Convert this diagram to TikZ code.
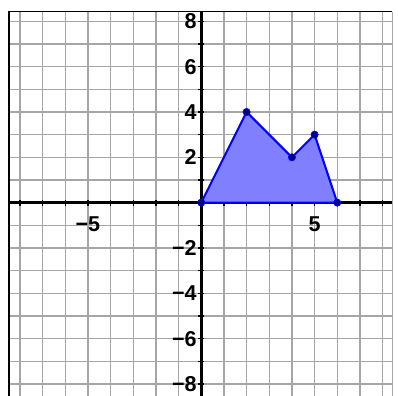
\documentclass[tikz,border=0pt]{standalone}
\usepackage{fontspec}
\setmainfont{Liberation Sans}
\usetikzlibrary{positioning}
\definecolor{grid-line}{HTML}{A6A6A6}
\definecolor{axis-line}{HTML}{000000}
\definecolor{shape-fill}{HTML}{8080FF}
\definecolor{shape-border}{HTML}{0000FF}
\definecolor{vertex-fill}{HTML}{000080}
\tikzset{
  grid-lines/.style={draw=grid-line, line width=0.8pt},
  axis/.style={draw=axis-line, line width=1.6pt},
  axis-tick/.style={draw=axis-line, line width=0.8pt},
  frame-line/.style={draw=axis-line, line width=1pt},
  tick-label/.style={inner sep=0pt, font=\fontsize{13.5}{13.5}\selectfont\bfseries},
  region/.style={fill=shape-fill, draw=shape-border, line width=1.25pt, line join=round},
  vertex/.style={circle, fill=vertex-fill, draw=shape-border, line width=0.4pt,
    inner sep=0pt, minimum size=1.6mm}
}

\begin{document}
\begin{tikzpicture}[x=0.5cm, y=0.5cm]
  \useasboundingbox (-8.88,-8.53) rectangle (8.68,8.94);

  % grid
  \foreach \k in {-8,...,8} {
    \draw[grid-lines] (\k,-8.6) -- (\k,8.43);
    \draw[grid-lines] (-8.48,\k) -- (8.43,\k);
  }
  \draw[grid-lines] (8.43,-8.6) -- (8.43,8.43);
  \draw[frame-line] (-8.48,-8.6) -- (-8.48,8.43) -- (8.43,8.43);

  % axes
  \coordinate (x-min) at (-8.48,0);
  \coordinate (x-max) at (8.43,0);
  \coordinate (y-min) at (0,-8.6);
  \coordinate (y-max) at (0,8.43);
  \draw[axis] (x-min) -- (x-max);
  \draw[axis] (y-min) -- (y-max);
  \foreach \k in {-8,...,8} {
    \draw[axis-tick] (\k,-0.13) -- (\k,0.13);
    \draw[axis-tick] (-0.13,\k) -- (0.13,\k);
  }

  % labels
  \node[tick-label, anchor=north] (x-neg5) at (-5,-0.59) {−5};
  \node[tick-label, anchor=north] (x-pos5) at (5,-0.59)  {5};
  \foreach \k/\t in {8/8, 6/6, 4/4, 2/2, -2/−2, -4/−4, -6/−6, -8/−8}
    \node[tick-label, anchor=east] (y-\k) at (-0.19,\k) {\t};

  % shaded polygon
  \coordinate (p1) at (0,0);
  \coordinate (p2) at (2,4);
  \coordinate (p3) at (4,2);
  \coordinate (p4) at (5,3);
  \coordinate (p5) at (6,0);
  \filldraw[region] (p1) -- (p2) -- (p3) -- (p4) -- (p5) -- cycle;
  \foreach \p in {p1,p2,p3,p4,p5}
    \node[vertex] (dot-\p) at (\p) {};
\end{tikzpicture}
\end{document}
